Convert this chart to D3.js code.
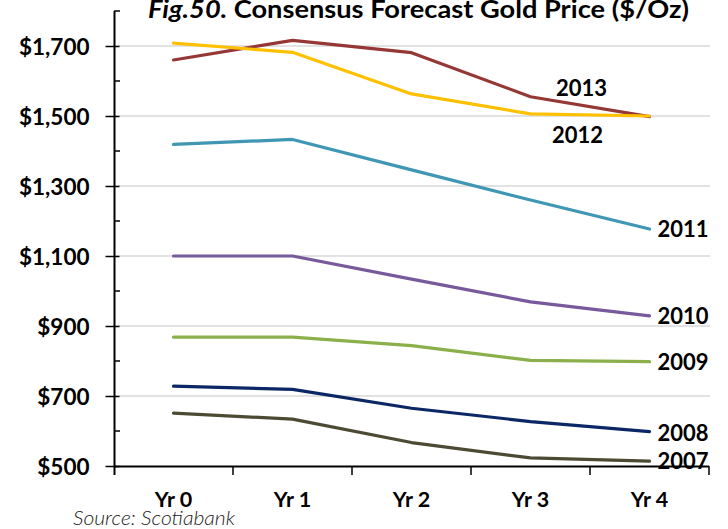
<!DOCTYPE html>
<html>
<head>
<meta charset="utf-8">
<script src="https://cdn.jsdelivr.net/npm/d3@7"></script>
<style>
  html, body { margin: 0; padding: 0; background: #fff; }
  svg { display: block; }
  text { font-family: Lato, "Open Sans", sans-serif; }
</style>
</head>
<body>
<div id="chart"></div>
<script>
// Consensus gold price forecasts ($/oz) by year the forecast was made
const horizons = ["Yr 0", "Yr 1", "Yr 2", "Yr 3", "Yr 4"];
const years = ["2013", "2012", "2011", "2010", "2009", "2008", "2007"];
const f2013 = [1660, 1716, 1681, 1555, 1498];
const f2012 = [1708, 1682, 1563, 1506, 1500];
const f2011 = [1419, 1433, 1346, 1260, 1177];
const f2010 = [1100, 1100, 1034, 969, 929];
const f2009 = [868, 868, 844, 802, 798];
const f2008 = [728, 719, 665, 627, 598];
const f2007 = [651, 634, 567, 523, 514];
const yTicks = [500, 700, 900, 1100, 1300, 1500, 1700];
const yMinorTicks = [600, 800, 1000, 1200, 1400, 1600, 1800];

const seriesValues = [f2013, f2012, f2011, f2010, f2009, f2008, f2007];
const colors = ["#953735", "#FFC000", "#3F97B3", "#77599C", "#8BB04B", "#0B2766", "#4D4A33"];
// label offset from the final point of each line
const labelOffsets = [
  {dx: -68, dy: -29, anchor: "middle"},
  {dx: -72, dy: 19, anchor: "middle"},
  {dx: 8, dy: 0, anchor: "start"},
  {dx: 8, dy: 0, anchor: "start"},
  {dx: 8, dy: 0, anchor: "start"},
  {dx: 8, dy: 1, anchor: "start"},
  {dx: 8, dy: 0, anchor: "start"}
];

const W = 728, H = 529;
const svg = d3.select("#chart").append("svg").attr("width", W).attr("height", H);

const x = d3.scaleBand().domain(horizons).range([114, 709]).padding(0);
const y = d3.scaleLinear().domain([500, 1800]).range([466, 11]);
const px = d => x(d) + x.bandwidth() / 2;

// horizontal gridlines
svg.append("g").selectAll("line").data(yTicks.filter(v => v > 500)).join("line")
  .attr("x1", 114).attr("x2", 710)
  .attr("y1", d => y(d)).attr("y2", d => y(d))
  .attr("stroke", "#D9D9D9").attr("stroke-width", 1.5);

// y axis
const yAxis = svg.append("g").attr("transform", "translate(114.5,0)")
  .call(d3.axisLeft(y).tickValues(yTicks).tickSize(9).tickPadding(16)
    .tickFormat(d => "$" + d3.format(",")(d)));
yAxis.select(".domain").remove();
yAxis.selectAll(".tick line").attr("x2", 5).attr("x1", -9).attr("stroke", "#000").attr("stroke-width", 1.5);
yAxis.selectAll(".tick text").attr("x", -25).attr("font-size", 22.5).attr("font-weight", 700)
  .attr("fill", "#000").attr("dy", "0.36em").style("font-family", "Lato, sans-serif");
svg.append("g").selectAll("line").data(yMinorTicks).join("line")
  .attr("x1", 114).attr("x2", 120)
  .attr("y1", d => y(d)).attr("y2", d => y(d))
  .attr("stroke", "#000").attr("stroke-width", 1.5);
svg.append("line").attr("x1", 114.5).attr("x2", 114.5).attr("y1", 11).attr("y2", 475)
  .attr("stroke", "#000").attr("stroke-width", 2);

// x axis
svg.append("line").attr("x1", 114).attr("x2", 709).attr("y1", 466.5).attr("y2", 466.5)
  .attr("stroke", "#000").attr("stroke-width", 2);
const bounds = horizons.map(h => x(h)).concat([x(horizons[horizons.length - 1]) + x.bandwidth()]);
svg.append("g").selectAll("line").data(bounds.slice(1)).join("line")
  .attr("x1", d => d).attr("x2", d => d).attr("y1", 466).attr("y2", 475)
  .attr("stroke", "#000").attr("stroke-width", 1.5);
svg.append("g").selectAll("text").data(horizons).join("text")
  .attr("x", d => px(d)).attr("y", 507)
  .attr("text-anchor", "middle").attr("font-size", 21.5).attr("font-weight", 700)
  .attr("fill", "#000").text(d => d);

// forecast lines
const line = d3.line().x((d, i) => px(horizons[i])).y(d => y(d));
svg.append("g").selectAll("path").data(seriesValues).join("path")
  .attr("d", d => line(d))
  .attr("fill", "none")
  .attr("stroke", (d, i) => colors[i])
  .attr("stroke-width", 3.2)
  .attr("stroke-linejoin", "round")
  .attr("stroke-linecap", "round");

// series labels
svg.append("g").selectAll("text").data(years).join("text")
  .attr("x", (d, i) => px(horizons[4]) + labelOffsets[i].dx)
  .attr("y", (d, i) => y(seriesValues[i][4]) + labelOffsets[i].dy)
  .attr("dy", "0.36em")
  .attr("text-anchor", (d, i) => labelOffsets[i].anchor)
  .attr("font-size", 22).attr("font-weight", 700).attr("fill", "#000")
  .text(d => d);

// title
const title = svg.append("text").attr("x", 148).attr("y", 18)
  .attr("font-size", 24).attr("font-weight", 700).attr("fill", "#000")
  .attr("textLength", 541).attr("lengthAdjust", "spacingAndGlyphs");
title.append("tspan").attr("font-style", "italic").text("Fig.50.");
title.append("tspan").text(" Consensus Forecast Gold Price ($/Oz)");

// source note
svg.append("text").attr("x", 73).attr("y", 525)
  .attr("font-size", 20).attr("font-style", "italic").attr("font-weight", 300)
  .attr("fill", "#222").attr("textLength", 162).attr("lengthAdjust", "spacingAndGlyphs")
  .text("Source: Scotiabank");
</script>
</body>
</html>
